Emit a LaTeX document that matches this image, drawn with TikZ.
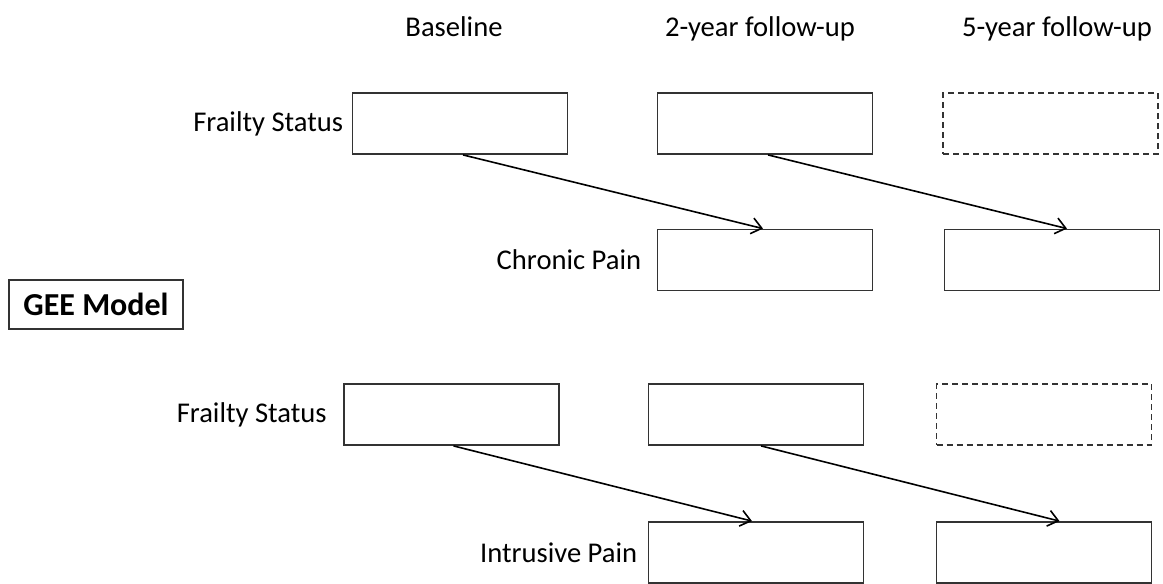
\documentclass[tikz,border=0pt]{standalone}
\usepackage{fontspec}
\setmainfont{Carlito}
\usetikzlibrary{positioning,arrows.meta}

\begin{document}
\begin{tikzpicture}[
	x=0.5pt, y=-0.5pt,
	font=\fontsize{14.3}{17}\selectfont,
	varbox/.style={rectangle, draw=black!80, line width=0.9pt, minimum width=107.5pt, minimum height=30.5pt, inner sep=0pt},
	dashbox/.style={varbox, dash pattern=on 3pt off 2pt},
	rowlabel/.style={inner sep=0pt},
	header/.style={anchor=base},
	>={Straight Barb[length=5pt,width=8pt]},
	]
	\useasboundingbox (0,0) rectangle (1163,584);
	
	%Headers
	\node[header] (h1) at (454,36)  {Baseline};
	\node[header] (h2) at (760,36)  {2-year follow-up};
	\node[header] (h3) at (1057,36) {5-year follow-up};
	
	%Boxes
	\node[varbox]  (f1) at (460,123.5)  {};
	\node[varbox]  (f2) at (765,123.5)  {};
	\node[dashbox] (f3) at (1050.5,123.5) {};
	\node[varbox]  (c2) at (765,260)    {};
	\node[varbox]  (c3) at (1052,260)   {};
	
	\node[varbox]  (g1) at (451.5,414.5) {};
	\node[varbox]  (g2) at (756,414.5)   {};
	\node[dashbox] (g3) at (1044,414.5)  {};
	\node[varbox]  (p2) at (756,552.5)   {};
	\node[varbox]  (p3) at (1044,552.5)  {};
	
	%Labels
	\node[rowlabel] (lf1) [left=4pt of f1]   {Frailty Status};
	\node[rowlabel] (lc)  [left=7.5pt of c2] {Chronic Pain};
	\node[rowlabel] (lf2) [left=8pt of g1]   {Frailty Status};
	\node[rowlabel] (lp)  [left=5pt of p2]   {Intrusive Pain};
	
	\node[draw=black!80, line width=1pt, minimum width=87pt, minimum height=24.5pt,
	      font=\fontsize{16}{19}\selectfont\bfseries] (gee) at (96,304.5) {GEE Model};
	
	%Lines
	\draw[->,thick] ([xshift=1.5pt]f1.south) -- ([xshift=-1pt]c2.north);
	\draw[->,thick] ([xshift=1.5pt]f2.south) -- ([xshift=7.5pt]c3.north);
	\draw[->,thick] ([xshift=1pt]g1.south)   -- ([xshift=-2pt]p2.north);
	\draw[->,thick] ([xshift=2.5pt]g2.south) -- ([xshift=7.75pt]p3.north);
\end{tikzpicture}
\end{document}
